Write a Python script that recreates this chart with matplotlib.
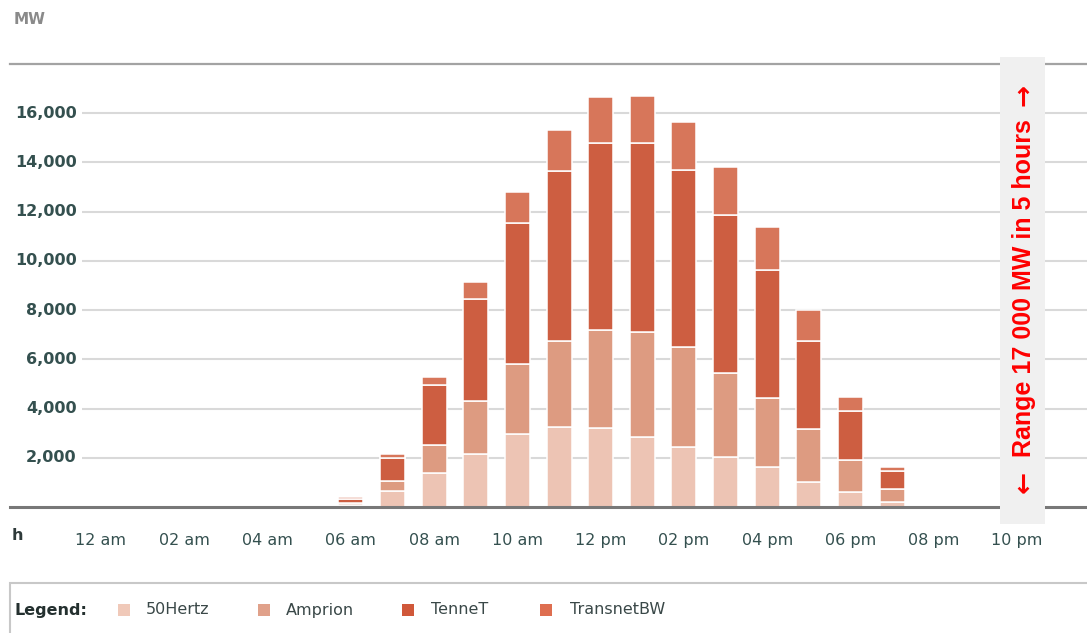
import matplotlib
matplotlib.use("Agg")
import matplotlib.pyplot as plt
from matplotlib.patches import Rectangle

# Hourly feed-in per control area (MW), hours 0..23
hours = list(range(24))
hertz50 = [0, 0, 0, 0, 0, 0, 80, 650, 1400, 2150, 2950, 3250, 3200, 2850,
           2450, 2050, 1630, 1000, 600, 200, 0, 0, 0, 0]
amprion = [0, 0, 0, 0, 0, 0, 70, 400, 1100, 2150, 2850, 3500, 4000, 4250,
           4050, 3400, 2800, 2150, 1300, 550, 0, 0, 0, 0]
tennet = [0, 0, 0, 0, 0, 0, 180, 950, 2450, 4150, 5750, 6900, 7600, 7700,
          7200, 6400, 5200, 3600, 2000, 700, 0, 0, 0, 0]
transnetbw = [0, 0, 0, 0, 0, 0, 70, 150, 350, 700, 1250, 1650, 1850, 1900,
              1950, 1950, 1750, 1250, 550, 180, 0, 0, 0, 0]

series_names = ["50Hertz", "Amprion", "TenneT", "TransnetBW"]
series_colors = ["#edc4b4", "#dd9b81", "#cd5e41", "#d7765a"]
legend_colors = ["#f0c9b9", "#e0a18a", "#d0583a", "#de6e50"]

y_ticks = [2000, 4000, 6000, 8000, 10000, 12000, 14000, 16000]
x_tick_hours = [0, 2, 4, 6, 8, 10, 12, 14, 16, 18, 20, 22]
x_tick_labels = ["12 am", "02 am", "04 am", "06 am", "08 am", "10 am",
                 "12 pm", "02 pm", "04 pm", "06 pm", "08 pm", "10 pm"]

W, H = 1087, 633
fig = plt.figure(figsize=(W / 100, H / 100), dpi=100)
fig.patch.set_facecolor("white")

# axes spans from x=10px to right edge, y from 64px to 507px
ax = fig.add_axes([10 / W, 1 - 507 / H, 1 - 10 / W, (507 - 64) / H])
ax.set_xlim(-2.185, 23.68)
ax.set_ylim(0, 18000)

label_color = "#34504f"

# horizontal gridlines starting just right of the value labels
for yt in y_ticks:
    ax.hlines(yt, -0.46, 23.68, color="#d9d9d9", lw=1.5, zorder=0)
    ax.text(-0.58, yt, f"{yt:,}", ha="right", va="center", fontsize=11.5,
            fontweight="bold", color=label_color)

# stacked bars
bottom = [0] * 24
for name, vals, col in zip(series_names, [hertz50, amprion, tennet, transnetbw],
                           series_colors):
    ax.bar(hours, vals, width=0.6, bottom=bottom, color=col,
           edgecolor="white", linewidth=1.1, zorder=2)
    bottom = [b + v for b, v in zip(bottom, vals)]

for s in ["left", "right"]:
    ax.spines[s].set_visible(False)
ax.spines["top"].set_color("#a3a3a3")
ax.spines["top"].set_linewidth(1.6)
ax.spines["bottom"].set_color("#787878")
ax.spines["bottom"].set_linewidth(2.2)
ax.spines["bottom"].set_zorder(3)

ax.set_yticks([])
ax.set_xticks(x_tick_hours)
ax.set_xticklabels(x_tick_labels, fontsize=11.5, color=label_color)
ax.tick_params(axis="x", length=0, pad=19)

# unit labels
fig.text(14 / W, 1 - 19 / H, "MW", fontsize=11, fontweight="bold",
         color="#8a8a8a", ha="left", va="center")
fig.text(12 / W, 1 - 535 / H, "h", fontsize=11.5, fontweight="bold",
         color="#2e3a3a", ha="left", va="center")

# range annotation strip
fig.patches.append(Rectangle((1000 / W, 1 - 524 / H), 45 / W, 467 / H,
                             transform=fig.transFigure, facecolor="#f0f0f0",
                             edgecolor="none", zorder=5))
fig.text(1024 / W, 1 - 288 / H, "Range 17 000 MW in 5 hours",
         rotation=90, ha="center", va="center", fontsize=18,
         fontweight="bold", color="#ff0000",
         family=["Liberation Sans", "DejaVu Sans"], zorder=6)
for ay, arrow in [(482, "←"), (95, "→")]:
    fig.text(1024 / W, 1 - ay / H, arrow, rotation=90, ha="center",
             va="center", fontsize=19, fontweight="bold", color="#ff0000",
             family=["DejaVu Sans"], zorder=6)

# legend panel
fig.patches.append(Rectangle((10 / W, -0.05), 1.1, (633 - 583) / H + 0.05,
                             transform=fig.transFigure, facecolor="white",
                             edgecolor="#c8c8c8", linewidth=1.5))
ly = 1 - 610 / H
fig.text(14 / W, ly, "Legend:", fontsize=11.5, fontweight="bold",
         color="#24302f", ha="left", va="center")
sq_x = [124, 264, 408, 546]
txt_x = [146, 286, 431, 570]
for name, col, sx, tx in zip(series_names, legend_colors, sq_x, txt_x):
    fig.patches.append(Rectangle(((sx - 6) / W, (633 - 616) / H), 12 / W, 12 / H,
                                 transform=fig.transFigure, facecolor=col,
                                 edgecolor="none"))
    fig.text(tx / W, ly, name, fontsize=11.5, color="#3a4848",
             ha="left", va="center")

fig.savefig("out.png", dpi=100, facecolor="white")
